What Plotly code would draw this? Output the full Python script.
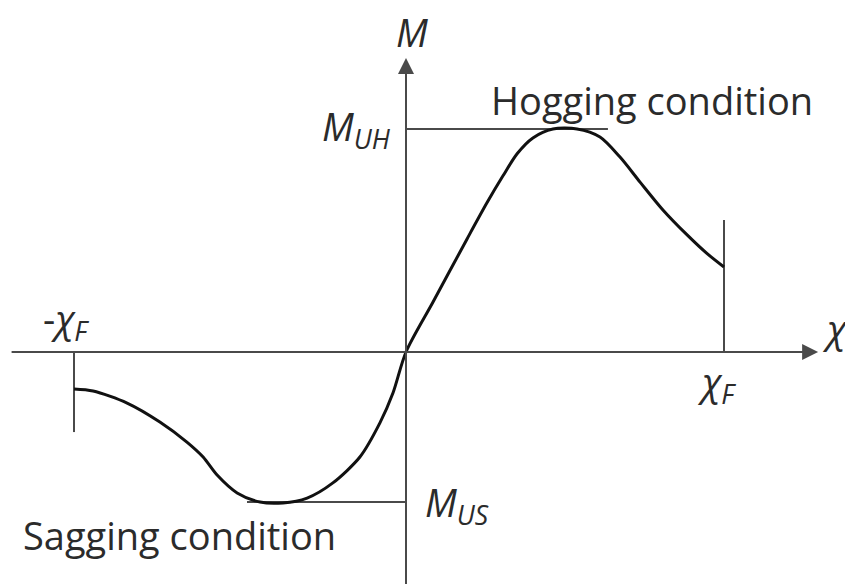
import plotly.graph_objects as go

# Moment-curvature diagram (normalised: chi_F = 1, M_UH = 1)
chi_F = 1.0
chi_left = -1.044
M_UH = 1.0
M_US = -0.673

# sagging branch (negative curvature), left end to origin
sag_chi = [-1.044, -0.984, -0.877, -0.774, -0.689, -0.638, -0.594, -0.531,
           -0.459, -0.387, -0.311, -0.230, -0.145, -0.082, -0.041, 0.0]
sag_M = [-0.166, -0.175, -0.229, -0.314, -0.404, -0.471, -0.552, -0.632,
         -0.673, -0.677, -0.655, -0.587, -0.471, -0.318, -0.184, 0.0]

# hogging branch (positive curvature), origin to right end
hog_chi = [0.085, 0.192, 0.255, 0.305, 0.350, 0.399, 0.462, 0.538, 0.610,
           0.673, 0.736, 0.808, 0.884, 0.947, 1.0]
hog_M = [0.224, 0.507, 0.670, 0.790, 0.890, 0.960, 1.0, 1.0, 0.964,
         0.874, 0.762, 0.637, 0.525, 0.441, 0.381]

# reference line extents
uh_line_end = 0.635
us_line_start = -0.5
right_tick_top = 0.592
left_tick_bottom = -0.359

x_axis = [-1.245, 1.296]
y_axis = [-1.1, 1.318]

AXIS_COLOR = "#4a4a4a"
TEXT_COLOR = "#2b2b2b"
FONT = "Open Sans"

fig = go.Figure()

# reference lines
for xs, ys in [
    ([0, uh_line_end], [M_UH, M_UH]),
    ([us_line_start, 0], [M_US, M_US]),
    ([chi_F, chi_F], [0, right_tick_top]),
    ([chi_left, chi_left], [0, left_tick_bottom]),
]:
    fig.add_trace(go.Scatter(x=xs, y=ys, mode="lines",
                             line=dict(color=AXIS_COLOR, width=2),
                             hoverinfo="skip"))

# the M-chi curve
fig.add_trace(go.Scatter(
    x=sag_chi + hog_chi,
    y=sag_M + hog_M,
    mode="lines",
    line=dict(color="#111111", width=3, shape="spline", smoothing=0.8),
    hoverinfo="skip",
))

# axes with arrow heads
arrow = dict(text="", showarrow=True, xref="x", yref="y", axref="x", ayref="y",
             arrowhead=2, arrowsize=1.6, arrowwidth=2, arrowcolor=AXIS_COLOR,
             standoff=0, startstandoff=0)
fig.add_annotation(x=x_axis[1], y=0, ax=x_axis[0], ay=0, **arrow)
fig.add_annotation(x=0, y=y_axis[1], ax=0, ay=y_axis[0], **arrow)

labels = [
    ("<i>M</i>", 0.019, 1.435, "center"),
    ("<i>M</i><sub><i>UH</i></sub>", -0.041, 1.004, "right"),
    ("Hogging condition", 0.774, 1.130, "center"),
    ("Sagging condition", -0.712, -0.820, "center"),
    ("-<i>χ</i><sub><i>F</i></sub>", -1.069, 0.143, "center"),
    ("<i>χ</i><sub><i>F</i></sub>", 0.975, -0.139, "center"),
    ("<i>χ</i>", 1.349, 0.108, "center"),
    ("<i>M</i><sub><i>US</i></sub>", 0.053, -0.686, "left"),
]
for text, x, y, xanchor in labels:
    fig.add_annotation(x=x, y=y, text=text, showarrow=False, xanchor=xanchor,
                       yanchor="middle", font=dict(family=FONT, size=38, color=TEXT_COLOR))

fig.update_layout(
    width=845, height=584,
    margin=dict(l=0, r=0, t=0, b=0),
    paper_bgcolor="white", plot_bgcolor="white",
    showlegend=False,
    xaxis=dict(visible=False, range=[-406 / 318, 439 / 318], fixedrange=True),
    yaxis=dict(visible=False, range=[-232 / 223, 352 / 223], fixedrange=True),
)

fig.write_html("out.html", config={"displayModeBar": False},
               post_script="document.body.style.margin='0';")
